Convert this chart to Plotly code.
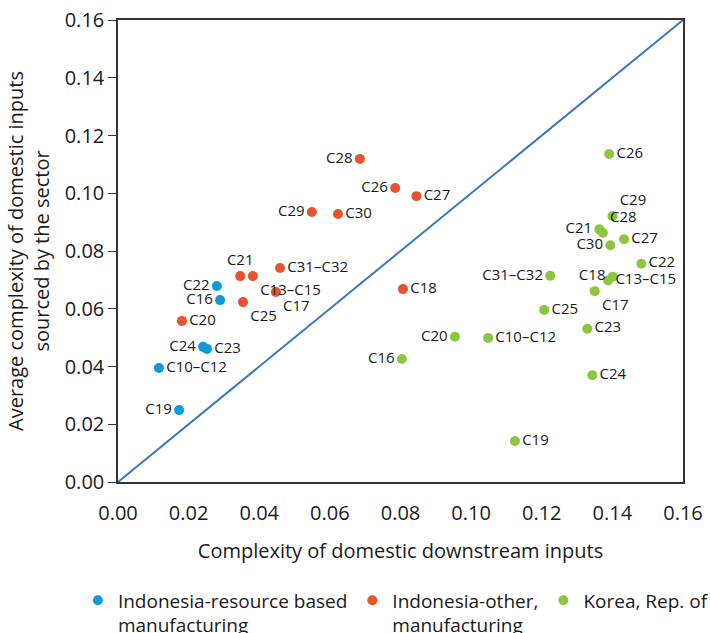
import plotly.graph_objects as go

# Indonesia - resource based manufacturing
res_labels = ["C22", "C16", "C24", "C23", "C10\u2013C12", "C19"]
res_x = [0.0280, 0.0289, 0.0241, 0.0252, 0.0116, 0.0173]
res_y = [0.0679, 0.0630, 0.0468, 0.0461, 0.0395, 0.0249]
res_pos = ["middle left", "middle left", "middle left", "middle right", "middle right", "middle left"]

# Indonesia - other manufacturing
oth_labels = ["C20", "C21", "C13\u2013C15", "C25", "C31\u2013C32", "C17", "C29", "C30", "C28", "C26", "C27", "C18"]
oth_x = [0.0181, 0.0346, 0.0382, 0.0354, 0.0459, 0.0447, 0.0549, 0.0623, 0.0685, 0.0785, 0.0845, 0.0807]
oth_y = [0.0558, 0.0713, 0.0713, 0.0623, 0.0741, 0.0658, 0.0935, 0.0928, 0.1119, 0.1018, 0.0990, 0.0668]
oth_pos = ["middle right", "top center", "bottom right", "bottom right", "middle right", "bottom right",
           "middle left", "middle right", "middle left", "middle left", "middle right", "middle right"]

# Korea, Rep. of
kor_labels = ["C26", "C29", "C21", "C28", "C27", "C30", "C22", "C31\u2013C32", "C18", "C13\u2013C15", "C17",
              "C25", "C23", "C10\u2013C12", "C24", "C19", "C20", "C16"]
kor_x = [0.1391, 0.1400, 0.1363, 0.1373, 0.1433, 0.1394, 0.1482, 0.1224, 0.1401, 0.1388, 0.1350,
         0.1207, 0.1329, 0.1048, 0.1343, 0.1124, 0.0954, 0.0804]
kor_y = [0.1136, 0.0921, 0.0875, 0.0863, 0.0841, 0.0820, 0.0756, 0.0714, 0.0711, 0.0698, 0.0661,
         0.0596, 0.0531, 0.0499, 0.0370, 0.0142, 0.0503, 0.0426]
kor_pos = ["middle right", "top right", "middle left", "top right", "middle right", "middle left",
           "middle right", "middle left", "middle left", "middle right", "bottom right",
           "middle right", "middle right", "middle right", "middle right", "middle right", "middle left", "middle left"]

diag = [0.0, 0.16]
ticks = [0.00, 0.02, 0.04, 0.06, 0.08, 0.10, 0.12, 0.14, 0.16]
tick_text = ["0.00", "0.02", "0.04", "0.06", "0.08", "0.10", "0.12", "0.14", "0.16"]

FONT = "Open Sans"
fig = go.Figure()
fig.add_trace(go.Scatter(x=diag, y=diag, mode="lines", line=dict(color="#3b78c0", width=2),
                         showlegend=False, hoverinfo="skip"))

def add(name, xs, ys, labels, pos, color):
    fig.add_trace(go.Scatter(
        x=xs, y=ys, mode="markers+text", name=name, text=labels, textposition=pos,
        marker=dict(color=color, size=10),
        textfont=dict(size=15, color="#1a1a1a", family=FONT),
    ))

add("Indonesia-resource based<br>manufacturing", res_x, res_y, res_labels, res_pos, "#0a9bd8")
add("Indonesia-other,<br>manufacturing", oth_x, oth_y, oth_labels, oth_pos, "#e9532b")
add("Korea, Rep. of", kor_x, kor_y, kor_labels, kor_pos, "#8cc63f")

fig.update_layout(
    width=710, height=633,
    margin=dict(l=118, r=27, t=20, b=151, autoexpand=False),
    paper_bgcolor="white", plot_bgcolor="white",
    font=dict(family=FONT, size=20, color="#1a1a1a"),
    showlegend=True,
    legend=dict(orientation="h", x=-0.071, xanchor="left", y=-0.215, yanchor="top",
                font=dict(size=19, family=FONT), valign="top", itemwidth=30,
                tracegroupgap=0, traceorder="normal"),
    xaxis=dict(range=[0, 0.16], tickvals=ticks, ticktext=tick_text, showgrid=False, zeroline=False,
               showline=True, linecolor="#333333", linewidth=1.5, mirror=True, ticks="",
               ticklabelstandoff=12, tickfont=dict(size=20),
               title=dict(text="Complexity of domestic downstream inputs", standoff=19,
                          font=dict(size=20))),
    yaxis=dict(range=[0, 0.16], tickvals=ticks, ticktext=tick_text, showgrid=False, zeroline=False,
               showline=True, linecolor="#333333", linewidth=1.5, mirror=True, ticks="outside",
               ticklen=8, tickcolor="#333333", tickfont=dict(size=20),
               title=dict(text="Average complexity of domestic inputs<br>sourced by the sector",
                          standoff=10, font=dict(size=20))),
)

fig.write_html("out.html", config={"displayModeBar": False},
               post_script="document.body.style.margin='0';")
